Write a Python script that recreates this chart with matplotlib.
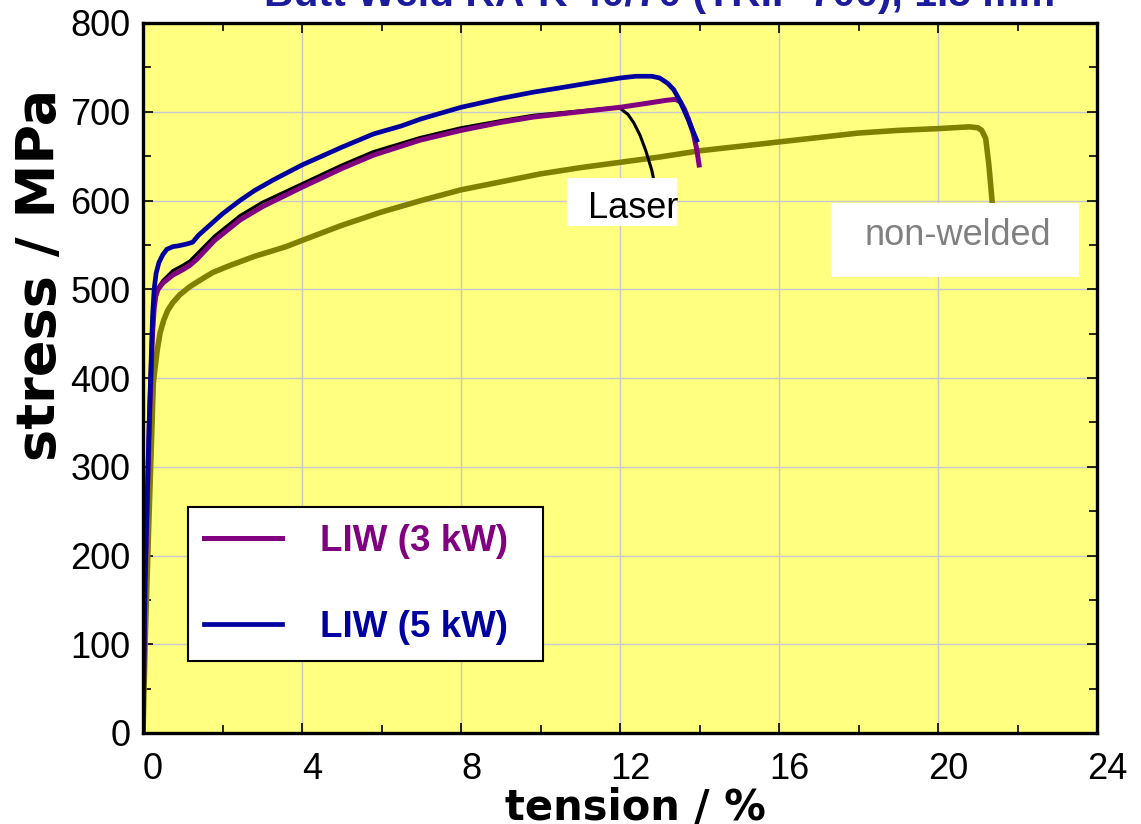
import matplotlib
matplotlib.use("Agg")
import matplotlib.pyplot as plt
import matplotlib.transforms as mtransforms
from matplotlib.patches import Rectangle
from matplotlib.ticker import MultipleLocator

plt.rcParams['font.family'] = ['Liberation Sans', 'DejaVu Sans']

# tension (%) / stress (MPa)
liw5_x = [0, 0.05, 0.16, 0.24, 0.28, 0.33, 0.40, 0.5, 0.6, 0.75, 0.9, 1.0, 1.1, 1.25, 1.4,
          1.6, 2.0, 2.44, 2.8, 3.27, 4.0, 4.5, 5.0, 5.8, 6.5, 7.0, 8.0, 9.0, 9.81, 10.5,
          11.17, 12.0, 12.4, 12.8, 13.0, 13.2, 13.35, 13.5, 13.7, 13.93]
liw5_y = [0, 170, 356, 469, 500, 518, 530, 539, 545, 548, 549, 550, 551, 553, 561,
          569, 585, 600, 611, 623, 640, 650, 660, 675, 684, 692, 705, 715, 722, 727,
          732, 738, 740, 740, 738, 732, 725, 713, 693, 668]

liw3_x = [0, 0.05, 0.16, 0.24, 0.28, 0.32, 0.38, 0.5, 0.75, 1.0, 1.18, 1.36, 1.8, 2.44,
          3.0, 4.0, 5.0, 5.79, 6.97, 8.0, 9.0, 9.81, 11.0, 12.0, 12.6, 13.18, 13.4, 13.52,
          13.62, 13.72, 13.84, 13.93, 13.99]
liw3_y = [0, 165, 350, 450, 478, 492, 500, 507, 516, 522, 527, 534, 555, 578,
          593, 615, 636, 651, 668, 679, 688, 694, 700, 705, 709, 713, 714, 711,
          703, 692, 676, 658, 640]

laser_x = [0, 0.05, 0.16, 0.26, 0.30, 0.38, 0.5, 0.75, 1.0, 1.18, 1.8, 2.44, 3.0, 4.0, 5.0,
           5.79, 6.97, 8.0, 9.0, 9.81, 11.0, 11.7, 12.0, 12.2, 12.34, 12.5, 12.65, 12.8, 12.9]
laser_y = [0, 165, 350, 470, 490, 502, 510, 521, 527, 532, 560, 583, 598, 619, 640,
           655, 671, 682, 690, 696, 701, 704, 704, 697, 688, 674, 656, 634, 612]

base_x = [0, 0.06, 0.13, 0.2, 0.26, 0.30, 0.36, 0.43, 0.52, 0.62, 0.75, 0.93, 1.18, 1.5,
          1.76, 2.2, 2.8, 3.6, 4.0, 5.0, 6.0, 7.0, 8.0, 9.0, 10.0, 11.0, 12.0, 13.0, 14.0,
          15.0, 16.0, 17.0, 18.0, 19.0, 20.0, 20.8, 21.0, 21.1, 21.2, 21.28, 21.36, 21.42]
base_y = [0, 110, 214, 310, 394, 410, 432, 451, 465, 476, 485, 494, 503, 512,
          519, 527, 537, 548, 555, 572, 587, 600, 612, 621, 630, 637, 643, 649, 656,
          661, 666, 671, 676, 679, 681, 683, 682, 679, 670, 640, 600, 560]

fig = plt.figure(figsize=(11.41, 8.24), dpi=100)
ax = fig.add_axes([143 / 1141, 91 / 824, 954 / 1141, 710 / 824])
ax.set_facecolor('#FFFF80')

ax.plot(base_x, base_y, color='#808000', lw=4.0, zorder=3)
ax.plot(laser_x, laser_y, color='black', lw=2.2, zorder=4)
l3, = ax.plot(liw3_x, liw3_y, color='#800080', lw=3.6, zorder=5, label='LIW (3 kW)')
l5, = ax.plot(liw5_x, liw5_y, color='#0000A0', lw=3.4, zorder=6, label='LIW (5 kW)')

ax.set_xlim(0, 24)
ax.set_ylim(0, 800)
ax.xaxis.set_major_locator(MultipleLocator(4))
ax.xaxis.set_minor_locator(MultipleLocator(2))
ax.yaxis.set_major_locator(MultipleLocator(100))
ax.yaxis.set_minor_locator(MultipleLocator(50))
ax.grid(True, which='major', color='#c8c8d0', lw=1.0, zorder=0)
ax.set_axisbelow(True)
ax.tick_params(which='both', direction='in', top=True, right=True, width=1.2, color='black')
ax.tick_params(which='major', length=7)
ax.tick_params(which='minor', length=6)
ax.tick_params(axis='x', labelsize=26, pad=14)
ax.tick_params(axis='y', labelsize=26, pad=9)
for s in ax.spines.values():
    s.set_linewidth(2.4)
    s.set_zorder(10)

shift = mtransforms.ScaledTranslation(10 / 100, 0, fig.dpi_scale_trans)
for lab in ax.get_xticklabels():
    lab.set_transform(lab.get_transform() + shift)

ax.set_xlabel('tension / %', fontsize=30, fontweight='bold', family='DejaVu Sans')
ax.xaxis.set_label_coords(0.516, -0.076)
ax.set_ylabel('stress / MPa', fontsize=39, fontweight='bold', family='DejaVu Sans', va='center')
ax.yaxis.set_label_coords(-0.108, 0.645)

fig.text(0.578, 1 - 6 / 824, 'Butt Weld RA-K 40/70 (TRIP 700), 1.5 mm', ha='center',
         va='baseline', fontsize=29.4, fontweight='bold', color='#1c1c9c')

leg = ax.legend(handles=[l3, l5], loc='lower left', bbox_to_anchor=(0.047, 0.101, 0.372, 0.2),
                mode='expand', frameon=True, fancybox=False, edgecolor='black',
                facecolor='white', framealpha=1, fontsize=26.5, handlelength=2.1,
                handletextpad=1.05, borderpad=0.45, labelspacing=1.39, borderaxespad=0)
leg.get_frame().set_linewidth(1.5)
leg.set_zorder(8)
for t, c in zip(leg.get_texts(), ['#800080', '#0000A0']):
    t.set_color(c)
    t.set_fontweight('bold')

# label boxes
ax.add_patch(Rectangle((10.67, 571.3), 2.76, 54.1, facecolor='white', edgecolor='none', zorder=7))
ax.text(11.19, 580.3, 'Laser', fontsize=26, color='black', va='baseline', zorder=8)
ax.add_patch(Rectangle((17.31, 513.8), 6.24, 83.4, facecolor='white', edgecolor='none', zorder=7))
ax.text(18.16, 549.9, 'non-welded', fontsize=26, color='#808080', va='baseline', zorder=8)

fig.savefig('out.png', dpi=100)
